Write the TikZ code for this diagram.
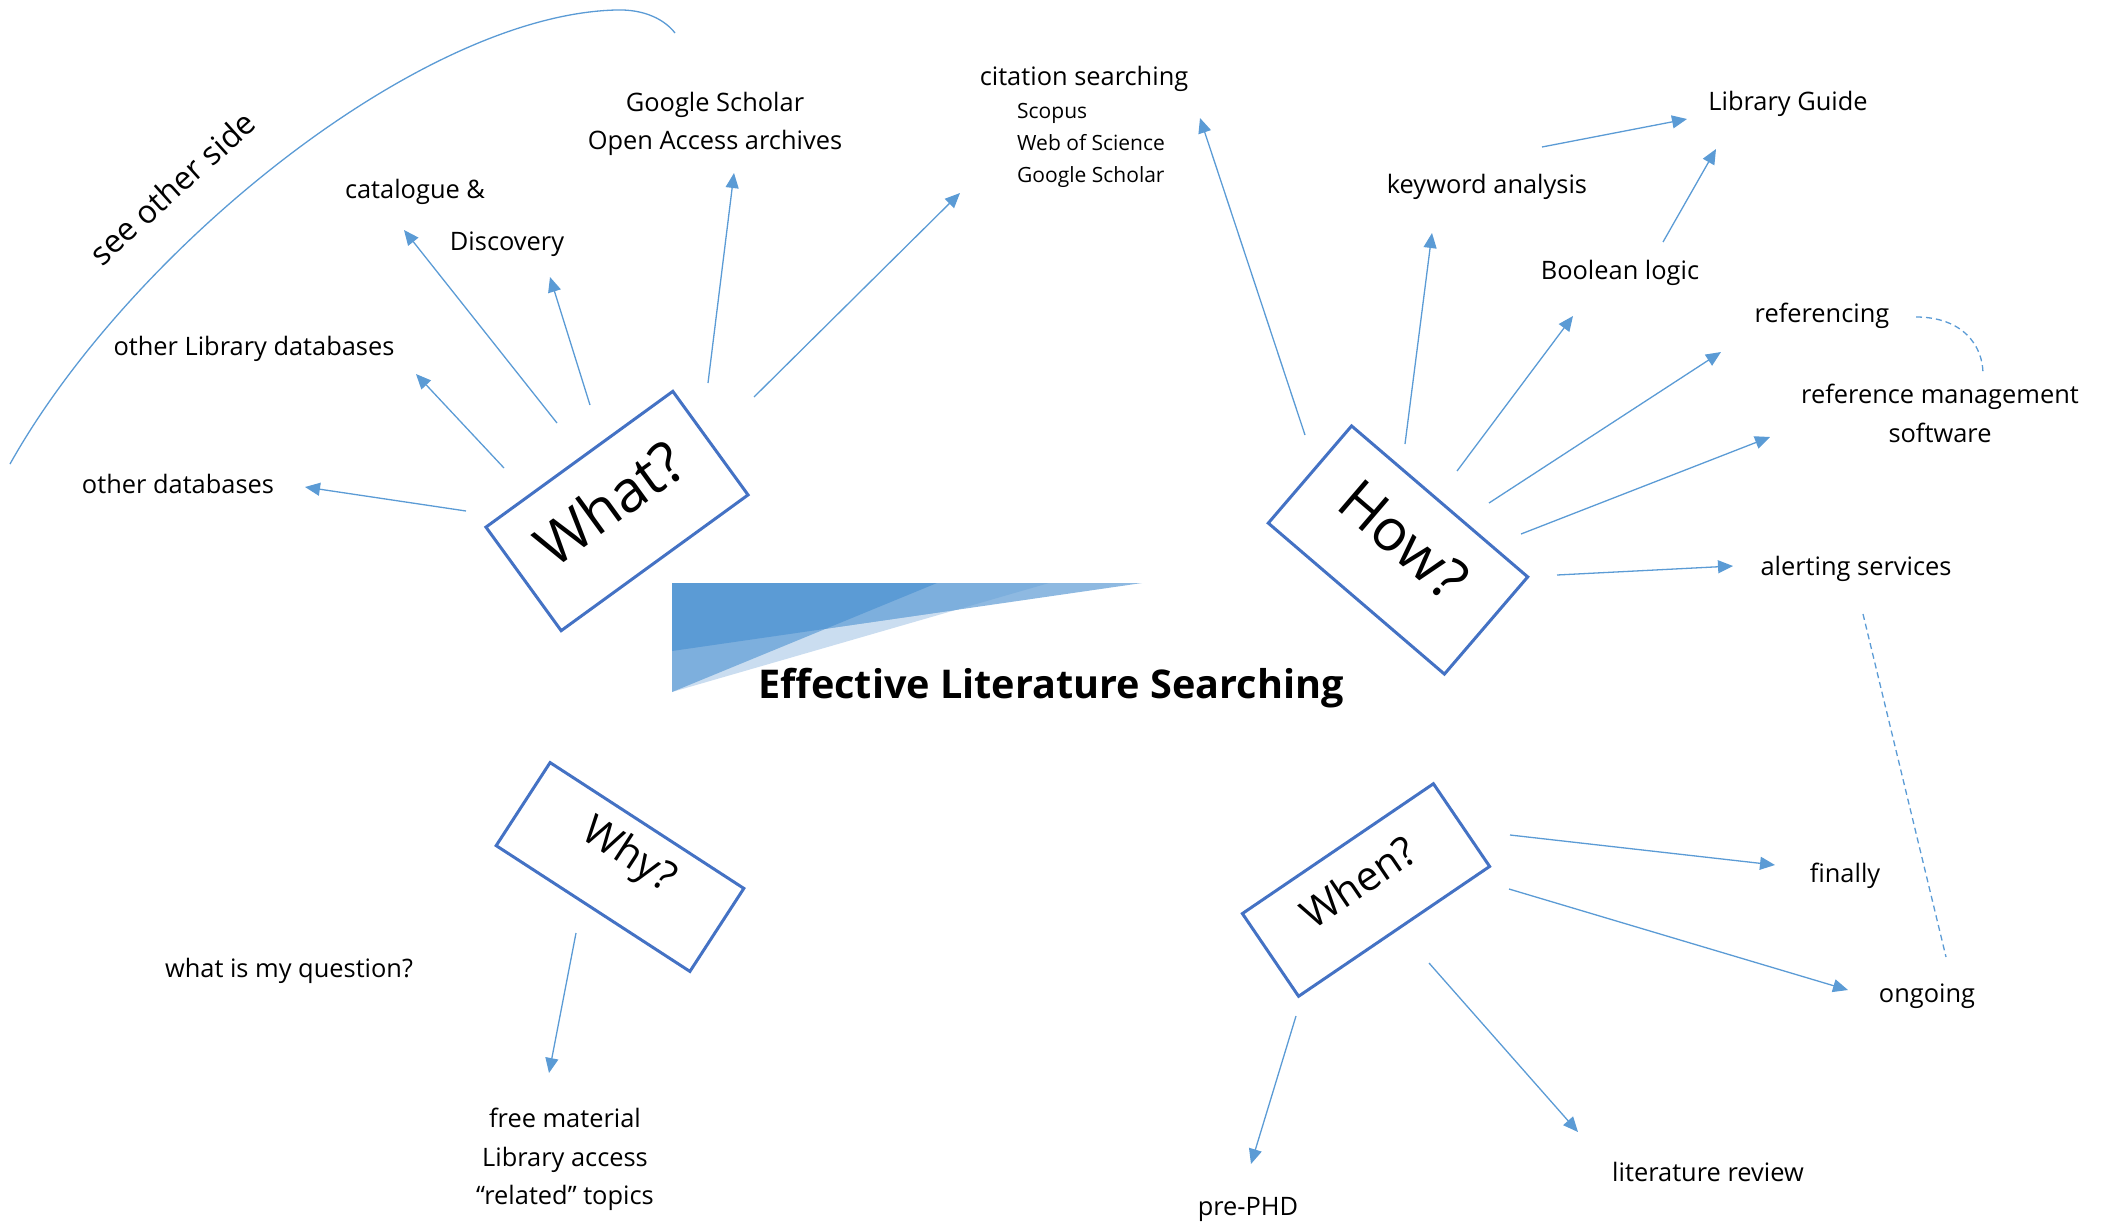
\documentclass[tikz,border=0pt]{standalone}
\usepackage{fontspec}
\setmainfont{Open Sans}
\usetikzlibrary{arrows.meta}
\definecolor{arr}{HTML}{5B9BD5}
\definecolor{boxc}{HTML}{4472C4}
\definecolor{tdark}{HTML}{5B9BD5}
\definecolor{tmed}{HTML}{7DAFDD}
\definecolor{tmlight}{HTML}{8EB9E1}
\definecolor{tlight}{HTML}{CADDF0}
\begin{document}
\begin{tikzpicture}[x=1pt,y=-1pt,
  conn/.style={draw=arr, line width=1.3pt, -{Triangle[length=15pt,width=13pt]}},
  dashc/.style={draw=arr, line width=1.3pt, dash pattern=on 6pt off 4pt},
  lbl/.style={inner sep=0pt, anchor=base, font=\fontsize{25.4}{30}\selectfont},
  smalllbl/.style={inner sep=0pt, anchor=base west, font=\fontsize{21}{25}\selectfont},
  qbox/.style={draw=boxc, line width=3pt, inner sep=0pt},
  bigq/.style={inner sep=0pt, font=\fontsize{58}{60}\selectfont},
  midq/.style={inner sep=0pt, font=\fontsize{41}{44}\selectfont}
]
\useasboundingbox (0,0) rectangle (2105,1224);

% arc
\draw[draw=arr, line width=1.3pt] (10,464) .. controls (130,250) and (420,15) .. (616,10) .. controls (645,9) and (665,20) .. (675,33);
\node[inner sep=0pt, rotate=42, font=\fontsize{32}{34}\selectfont] (seeother) at (172,188) {see other side};

% central triangle
\fill[tlight] (672,583) -- (1049,583) -- (672,692) -- cycle;
\fill[tmlight] (672,583) -- (1142,583) -- (672,651) -- cycle;
\begin{scope}
  \clip (672,583) -- (1142,583) -- (672,651) -- cycle;
  \fill[tmed] (672,583) -- (1049,583) -- (672,692) -- cycle;
\end{scope}
\fill[tmed] (672,583) -- (937,583) -- (672,692) -- cycle;
\begin{scope}
  \clip (672,583) -- (1142,583) -- (672,651) -- cycle;
  \fill[tdark] (672,583) -- (937,583) -- (672,692) -- cycle;
\end{scope}
\node[inner sep=0pt, anchor=base, font=\bfseries\fontsize{39.6}{44}\selectfont] (title) at (1051,698) {Effective Literature Searching};

% boxes
\node[qbox, minimum width=231pt, minimum height=128pt, rotate=36] (whatbox) at (617,511) {};
\node[bigq, rotate=36] (whattext) at (609,503) {What?};
\node[qbox, minimum width=232pt, minimum height=128pt, rotate=-40.6] (howbox) at (1398,550) {};
\node[bigq, rotate=-40.6] (howtext) at (1404,540) {How?};
\node[qbox, minimum width=231pt, minimum height=99pt, rotate=-33] (whybox) at (620,867) {};
\node[midq, rotate=-33] (whytext) at (628,856) {Why?};
\node[qbox, minimum width=231pt, minimum height=100pt, rotate=34.2] (whenbox) at (1366,890) {};
\node[midq, rotate=34.2] (whentext) at (1358,882) {When?};

% labels
\node[lbl] (otherdb) at (178,493) {other databases};
\node[lbl] (otherlib) at (254,355) {other Library databases};
\node[lbl] (catalogue) at (415,198) {catalogue \&};
\node[lbl] (discovery) at (507,250) {Discovery};
\node[lbl] (gs) at (715,111) {Google Scholar};
\node[lbl] (oa) at (715,149) {Open Access archives};
\node[lbl] (citation) at (1084,85) {citation searching};
\node[smalllbl] (scopus) at (1017,118) {Scopus};
\node[smalllbl] (wos) at (1017,150) {Web of Science};
\node[smalllbl] (gs2) at (1017,182) {Google Scholar};
\node[lbl] (libguide) at (1788,110) {Library Guide};
\node[lbl] (keyword) at (1487,193) {keyword analysis};
\node[lbl] (boolean) at (1620,279) {Boolean logic};
\node[lbl] (referencing) at (1822,322) {referencing};
\node[lbl] (refmgmt) at (1940,403) {reference management};
\node[lbl] (software) at (1940,442) {software};
\node[lbl] (alerting) at (1856,575) {alerting services};
\node[lbl] (finally) at (1845,882) {finally};
\node[lbl] (ongoing) at (1927,1002) {ongoing};
\node[lbl] (litreview) at (1708,1181) {literature review};
\node[lbl] (prephd) at (1248,1215) {pre-PHD};
\node[lbl] (question) at (289,977) {what is my question?};
\node[lbl] (free) at (565,1127) {free material};
\node[lbl] (libaccess) at (565,1166) {Library access};
\node[lbl] (related) at (565,1204) {“related” topics};

% connector end points
\coordinate (s1) at (466,511);  \coordinate (e1) at (305,487);
\coordinate (s2) at (504,468);  \coordinate (e2) at (416,374);
\coordinate (s3) at (557,423);  \coordinate (e3) at (404,230);
\coordinate (s4) at (590,405);  \coordinate (e4) at (550,277);
\coordinate (s5) at (708,383);  \coordinate (e5) at (734,173);
\coordinate (s6) at (754,397);  \coordinate (e6) at (960,193);
\coordinate (s7) at (1305,435); \coordinate (e7) at (1200,118);
\coordinate (s8) at (1405,444); \coordinate (e8) at (1432,233);
\coordinate (s9) at (1457,471); \coordinate (e9) at (1573,316);
\coordinate (s10) at (1489,503); \coordinate (e10) at (1721,352);
\coordinate (s11) at (1521,534); \coordinate (e11) at (1770,437);
\coordinate (s12) at (1557,575); \coordinate (e12) at (1733,566);
\coordinate (s13) at (1542,147); \coordinate (e13) at (1687,119);
\coordinate (s14) at (1663,242); \coordinate (e14) at (1716,149);
\coordinate (s15) at (576,933);  \coordinate (e15) at (549,1073);
\coordinate (s16) at (1510,835); \coordinate (e16) at (1775,865);
\coordinate (s17) at (1509,889); \coordinate (e17) at (1848,990);
\coordinate (s18) at (1429,963); \coordinate (e18) at (1578,1132);
\coordinate (s19) at (1296,1016); \coordinate (e19) at (1251,1164);
\coordinate (d1a) at (1916,317); \coordinate (d1b) at (1983,374);
\coordinate (d2a) at (1863,614); \coordinate (d2b) at (1946,957);

\foreach \i in {1,...,19} { \draw[conn] (s\i) -- (e\i); }
\draw[dashc] (d1a) .. controls (1962,317) and (1983,345) .. (d1b);
\draw[dashc] (d2a) -- (d2b);
\end{tikzpicture}
\end{document}
